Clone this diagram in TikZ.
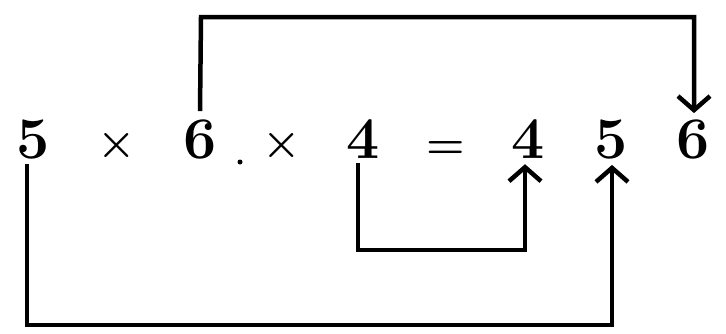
\documentclass[tikz,border=0pt]{standalone}
\usetikzlibrary{arrows.meta}
\begin{document}
\begin{tikzpicture}[x=1pt,y=-1pt,
  sym/.style={inner sep=0pt,anchor=base,font=\fontsize{59}{60}\selectfont\bfseries},
  op/.style={inner sep=0pt,anchor=base,font=\fontsize{44}{44}\selectfont\bfseries},
  conn/.style={line width=4.5pt,line cap=butt,line join=miter},
  tip/.style={-{Straight Barb[length=14pt,width=32pt,line width=4.5pt]}}]
\useasboundingbox (0,0) rectangle (726,333);
\node[sym] (f5)  at (33,158)  {5};
\node[op]  (x1)  at (117,156) {×};
\node[sym] (s6)  at (200,158) {6};
\fill (240,162) circle (2.5pt);
\node[op]  (x2)  at (282,156) {×};
\node[sym] (f4)  at (363,158) {4};
\node[op]  (eq)  at (446,158) {=};
\node[sym] (r4)  at (528,158) {4};
\node[sym] (r5)  at (611,158) {5};
\node[sym] (r6)  at (693,158) {6};
% top connector 6 -> 6
\coordinate (tl) at (201,17);
\coordinate (tr) at (694,17);
\draw[conn,tip] ([yshift=8pt]s6.north) -- (tl) -- (tr) -- ([xshift=1pt,yshift=6pt]r6.north);
% inner connector 4 -> 4
\coordinate (il) at (358,250);
\coordinate (ir) at (525,250);
\draw[conn,tip] ([xshift=-5pt,yshift=-5pt]f4.south) -- (il) -- (ir) -- ([xshift=-3pt,yshift=-6pt]r4.south);
% outer connector 5 -> 5
\coordinate (ol) at (27,325);
\coordinate (or) at (612,325);
\draw[conn,tip] ([xshift=-6pt,yshift=-5pt]f5.south) -- (ol) -- (or) -- ([xshift=1pt,yshift=-6pt]r5.south);
\end{tikzpicture}
\end{document}
